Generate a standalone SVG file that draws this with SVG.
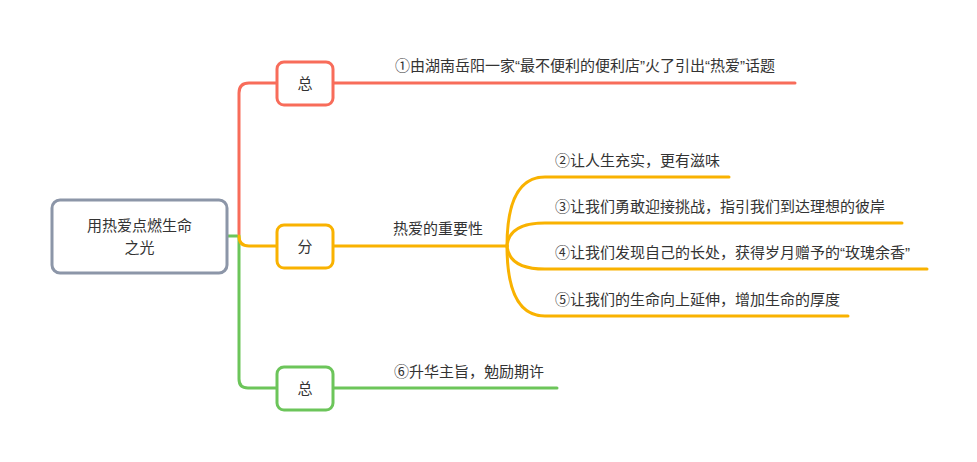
<svg xmlns="http://www.w3.org/2000/svg" width="977" height="462" viewBox="0 0 977 462">
<style>
text{font-family:"Noto Sans CJK SC","Noto Sans",sans-serif;font-size:15px;fill:#333}
.q{font-family:"Liberation Sans","Noto Sans CJK SC",sans-serif}
.c{text-anchor:middle}
.ln{fill:none;stroke-width:3;stroke-linecap:round}
.r{stroke:#f86c5a}.o{stroke:#f9b200}.g{stroke:#6cc55a}
.node{fill:#fff;stroke-width:3}
</style>
<rect width="977" height="462" fill="#fff"/>
<g id="connectors">
<path class="ln g" d="M226,236 L239,236 L239,379 Q239,388 248,388 L277,388"/>
<path class="ln r" d="M239,234 L239,93 Q239,83 249,83 L277,83"/>
<path class="ln o" d="M239,236 Q239,246 249,246 L277,246"/>
<path class="ln r" d="M333,83 L795,83"/>
<path class="ln o" d="M333,246 L507,246"/>
<path class="ln g" d="M333,388 L557,388"/>
<path class="ln o" d="M507,246 Q507,177 545,177 L729,177"/>
<path class="ln o" d="M507,246 Q509,223 545,223 L902,223"/>
<path class="ln o" d="M507,246 Q509,269 545,269 L927,269"/>
<path class="ln o" d="M507,246 Q507,316 545,316 L848,316"/>
</g>
<g id="root">
<rect x="52" y="200" width="175" height="73" rx="8" class="node" stroke="#8c96a8"/>
<text x="139.5" y="231" class="c">用热爱点燃生命</text>
<text x="139.5" y="253" class="c">之光</text>
</g>
<g id="n-zong1">
<rect x="277" y="62" width="56" height="43" rx="7" class="node" stroke="#f86c5a"/>
<text x="305" y="89" class="c">总</text>
</g>
<g id="n-fen">
<rect x="277" y="225" width="56" height="43" rx="7" class="node" stroke="#f9b200"/>
<text x="305" y="252" class="c">分</text>
</g>
<g id="n-zong2">
<rect x="277" y="367" width="56" height="43" rx="7" class="node" stroke="#6cc55a"/>
<text x="305" y="394" class="c">总</text>
</g>
<g id="t1"><text x="395" y="71">①由湖南岳阳一家<tspan class="q">“</tspan>最不便利的便利店<tspan class="q">”</tspan>火了引出<tspan class="q">“</tspan>热爱<tspan class="q">”</tspan>话题</text></g>
<g id="t-imp"><text x="393" y="234">热爱的重要性</text></g>
<g id="t2"><text x="555" y="166">②让人生充实，更有滋味</text></g>
<g id="t3"><text x="555" y="212">③让我们勇敢迎接挑战，指引我们到达理想的彼岸</text></g>
<g id="t4"><text x="555" y="258">④让我们发现自己的长处，获得岁月赠予的<tspan class="q">“</tspan>玫瑰余香<tspan class="q">”</tspan></text></g>
<g id="t5"><text x="555" y="305">⑤让我们的生命向上延伸，增加生命的厚度</text></g>
<g id="t6"><text x="394" y="377">⑥升华主旨，勉励期许</text></g>
</svg>
